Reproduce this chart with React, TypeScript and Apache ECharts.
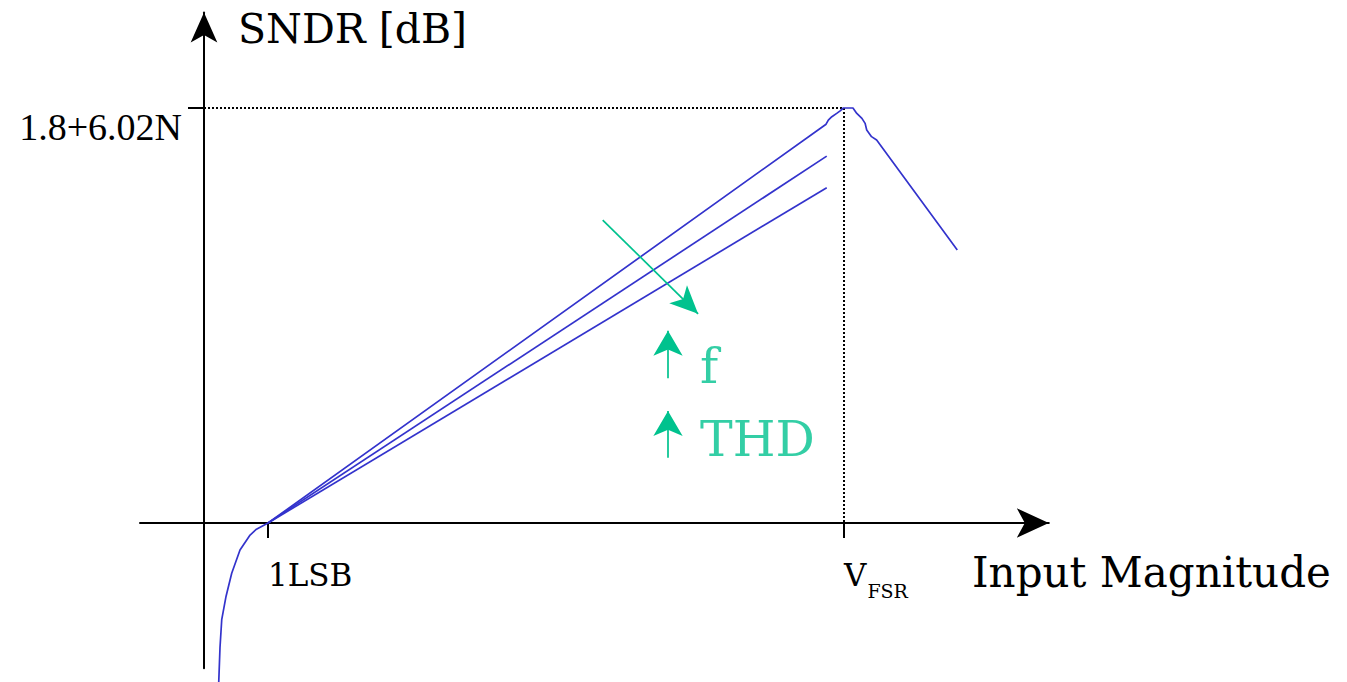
import React, { useEffect, useRef } from "react";
import * as echarts from "echarts";

// x in LSB-ish units (1 = 1LSB, 10 = full scale), y in normalised dB units (10 = 1.8+6.02N)
const xTickValues = [1, 10];
const xTickLabels = ["1LSB", "V_FSR"];
const yTickValues = [10];
const yTickLabels = ["1.8+6.02N"];

const xAxisName = "Input Magnitude";
const yAxisName = "SNDR [dB]";

// shared part of the curve below 1 LSB
const belowLsbCurve = [
  [0.23, -3.85], [0.25, -3.0], [0.277, -2.33], [0.344, -1.77], [0.433, -1.21],
  [0.5625, -0.65], [0.72, -0.29], [0.82, -0.15], [1, 0],
];
// ideal (lowest frequency / THD) curve, peaking at full scale
const topCurve = [
  [1, 0], [9.72, 9.61], [9.755, 9.71], [9.81, 9.79], [9.886, 9.87], [9.94, 9.93],
  [9.99, 10], [10.14, 10], [10.2, 9.87], [10.28, 9.75], [10.33, 9.63], [10.355, 9.47],
  [10.43, 9.31], [10.51, 9.23], [11.77, 6.58],
];
const midCurve = [[1, 0], [9.73, 8.84]];
const lowCurve = [[1, 0], [9.73, 8.08]];

// dotted full-scale guide
const fullScaleGuide = [[0, 10], [10, 10], [10, 0]];

// green annotation arrows [from, to]
const trendArrow = [[6.23, 7.3], [7.72, 5.04]];
const freqArrow = [[7.25, 3.49], [7.25, 4.63]];
const thdArrow = [[7.25, 1.57], [7.25, 2.7]];
const annotationLabels = ["f", "THD"];
const annotationPos = [[7.75, 3.78], [7.75, 2.02]];

const BLUE = "#3333cc";
const GREEN = "#00c28e";
const SERIF = "DejaVu Serif";

// axis geometry (value units)
const X_MIN = -1, X_MAX = 13.2;
const Y_MIN = -3.5, Y_MAX = 12.3;

function fmtTick(values: number[], labels: string[], v: number) {
  const i = values.indexOf(v);
  if (i < 0) return "";
  const t = labels[i];
  const parts = t.split("_");
  if (parts.length > 1) return `{v|${parts[0]}}{s|${parts[1]}}`;
  return `{v|${t}}`;
}

export default function App() {
  const ref = useRef<HTMLDivElement>(null);
  useEffect(() => {
    if (!ref.current) return;
    const chart = echarts.init(ref.current, undefined, { renderer: "svg" });
    const pxX = 64, pxY = 41.5;
    const gridLeft = 140;
    const gridTop = 523 - Y_MAX * pxY;
    const gridRightEdge = gridLeft + (X_MAX - X_MIN) * pxX;
    const gridBottomEdge = 523 - Y_MIN * pxY;
    const arrowLine = (pts: number[][], size: number[]) => [
      { coord: pts[0], symbol: "none" },
      { coord: pts[1], symbol: "arrow", symbolSize: size },
    ];
    chart.setOption({
      animation: false,
      backgroundColor: "#ffffff",
      grid: {
        left: gridLeft,
        right: 1347 - gridRightEdge,
        top: gridTop,
        bottom: 682 - gridBottomEdge,
        containLabel: false,
        outerBoundsMode: "none",
      },
      xAxis: {
        type: "value",
        min: X_MIN,
        max: X_MAX,
        position: "bottom",
        offset: -(gridBottomEdge - 523),
        splitLine: { show: false },
        axisLine: {
          onZero: false,
          lineStyle: { color: "#000", width: 2 },
          symbol: ["none", "arrow"],
          symbolSize: [22, 32],
        },
        axisTick: {
          show: true,
          customValues: xTickValues,
          length: 15,
          lineStyle: { color: "#000", width: 2 },
        },
        axisLabel: {
          customValues: xTickValues,
          formatter: (v: number) => fmtTick(xTickValues, xTickLabels, v),
          align: "left",
          verticalAlign: "top",
          margin: 36,
          color: "#000",
          rich: {
            v: { fontFamily: SERIF, fontSize: 31, lineHeight: 31, color: "#000", verticalAlign: "top" },
            s: {
              fontFamily: SERIF, fontSize: 19, lineHeight: 19, color: "#000",
              verticalAlign: "top", padding: [22, 0, 0, 1],
            },
          },
        },
        name: xAxisName,
        nameLocation: "end",
        nameGap: 972 - gridRightEdge,
        nameMoveOverlap: false,
        nameTextStyle: {
          fontFamily: SERIF,
          fontSize: 42,
          lineHeight: 99,
          color: "#000",
          align: "left",
          verticalAlign: "top",
        },
      },
      yAxis: {
        type: "value",
        min: Y_MIN,
        max: Y_MAX,
        position: "left",
        offset: -(204 - gridLeft),
        splitLine: { show: false },
        axisLine: {
          onZero: false,
          lineStyle: { color: "#000", width: 2 },
          symbol: ["none", "arrow"],
          symbolSize: [20, 30],
        },
        axisTick: {
          show: true,
          customValues: yTickValues,
          length: 16,
          lineStyle: { color: "#000", width: 2 },
        },
        axisLabel: {
          customValues: yTickValues,
          formatter: (v: number) => {
            const i = yTickValues.indexOf(v);
            return i < 0 ? "" : yTickLabels[i];
          },
          fontFamily: "Liberation Serif",
          fontSize: 38,
          lineHeight: 38,
          color: "#000",
          margin: 22,
          verticalAlign: "top",
          padding: [0, 0, 0, 0],
        },
        name: yAxisName,
        nameLocation: "end",
        nameGap: gridTop - 28.5,
        nameMoveOverlap: false,
        nameTextStyle: {
          fontFamily: SERIF,
          fontSize: 41,
          color: "#000",
          align: "left",
          verticalAlign: "middle",
          padding: [0, 0, 0, 34],
        },
      },
      series: [
        {
          name: "full scale guide",
          type: "line",
          data: fullScaleGuide,
          showSymbol: false,
          symbol: "none",
          lineStyle: { color: "#000", width: 2, type: [2, 2] },
          silent: true,
          z: 1,
        },
        {
          name: "below 1LSB",
          type: "line",
          data: belowLsbCurve,
          symbol: "none",
          clip: false,
          lineStyle: { color: BLUE, width: 1.7 },
          z: 3,
        },
        {
          name: "low f / THD",
          type: "line",
          data: topCurve,
          symbol: "none",
          lineStyle: { color: BLUE, width: 1.7 },
          z: 3,
        },
        {
          name: "mid f / THD",
          type: "line",
          data: midCurve,
          symbol: "none",
          lineStyle: { color: BLUE, width: 1.7 },
          z: 3,
        },
        {
          name: "high f / THD",
          type: "line",
          data: lowCurve,
          symbol: "none",
          lineStyle: { color: BLUE, width: 1.7 },
          z: 3,
        },
        {
          name: "annotations",
          type: "scatter",
          symbolSize: 0,
          data: annotationLabels.map((n, i) => ({ name: n, value: annotationPos[i] })),
          label: {
            show: true,
            position: "right",
            distance: 0,
            formatter: (p: any) => p.name,
            fontFamily: SERIF,
            fontSize: 49,
            color: GREEN,
          },
          markLine: {
            silent: true,
            symbol: ["none", "arrow"],
            label: { show: false },
            lineStyle: { color: GREEN, width: 1.7, type: "solid" },
            emphasis: { disabled: true },
            data: [
              arrowLine(trendArrow, [19, 28]),
              arrowLine(freqArrow, [22, 25]),
              arrowLine(thdArrow, [22, 25]),
            ],
          },
          z: 4,
        },
      ],
    });
    return () => chart.dispose();
  }, []);
  return (
    <div
      ref={ref}
      style={{ position: "absolute", left: 0, top: 0, width: 1347, height: 682, background: "#fff" }}
    />
  );
}
